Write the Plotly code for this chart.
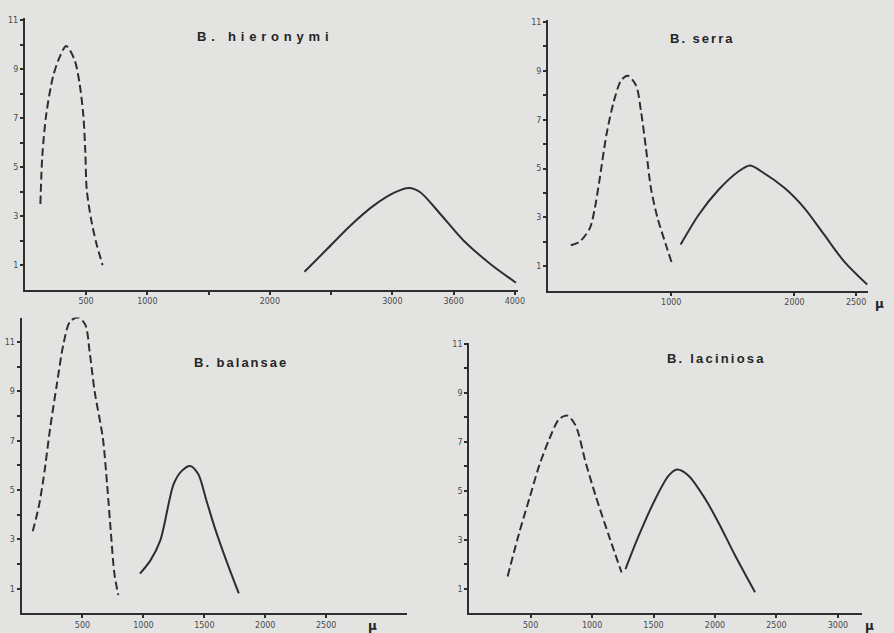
import plotly.graph_objects as go

# ---------------- data ----------------
hieronymi_dashed_x = [127, 143, 176, 230, 284, 338, 405, 446, 478, 494, 505, 540, 581, 635]
hieronymi_dashed_y = [3.5, 5.5, 7.2, 8.7, 9.5, 9.95, 9.4, 8.45, 7.1, 5.6, 4.1, 2.9, 1.95, 1.0]
hieronymi_solid_x = [2283, 2472, 2661, 2850, 3025, 3134, 3228, 3390, 3579, 3795, 4010]
hieronymi_solid_y = [0.73, 1.68, 2.63, 3.44, 3.98, 4.15, 3.98, 3.1, 2.02, 1.07, 0.28]

serra_dashed_x = [185, 260, 340, 380, 420, 474, 533, 594, 648, 715, 755, 795, 835, 889, 956, 1004]
serra_dashed_y = [1.86, 2.02, 2.56, 3.38, 4.6, 6.38, 7.73, 8.62, 8.8, 8.4, 7.33, 5.83, 4.2, 2.97, 1.89, 1.14]
serra_solid_x = [1076, 1223, 1384, 1545, 1639, 1732, 1920, 2080, 2241, 2402, 2590]
serra_solid_y = [1.89, 3.11, 4.13, 4.88, 5.12, 4.88, 4.2, 3.38, 2.29, 1.2, 0.25]

balansae_dashed_x = [92, 140, 181, 235, 289, 343, 397, 464, 524, 559, 600, 667, 702, 734, 762, 794]
balansae_dashed_y = [3.33, 4.3, 5.5, 7.52, 9.27, 10.9, 11.83, 12.0, 11.7, 10.6, 9.0, 7.12, 5.24, 3.22, 1.61, 0.74]
balansae_solid_x = [972, 1058, 1139, 1248, 1315, 1383, 1450, 1518, 1585, 1680, 1783]
balansae_solid_y = [1.61, 2.15, 2.96, 5.24, 5.78, 5.98, 5.65, 4.57, 3.49, 2.15, 0.81]

laciniosa_dashed_x = [313, 408, 489, 570, 651, 732, 800, 867, 948, 1029, 1137, 1240]
laciniosa_dashed_y = [1.51, 3.3, 4.67, 6.03, 7.1, 7.93, 8.07, 7.66, 6.16, 4.8, 3.17, 1.67]
laciniosa_solid_x = [1272, 1380, 1515, 1623, 1691, 1785, 1921, 2028, 2164, 2326]
laciniosa_solid_y = [1.81, 3.17, 4.67, 5.62, 5.87, 5.62, 4.67, 3.71, 2.36, 0.86]

titles = ["B. hieronymi", "B. serra", "B. balansae", "B. laciniosa"]

y_tickvals = list(range(1, 12))
y_ticktext = [str(v) if v % 2 == 1 else "" for v in y_tickvals]

x1_tickvals = [500, 1000, 1500, 2000, 2500, 3000, 3500, 4000]
x1_ticktext = ["500", "1000", "", "2000", "", "3000", "3600", "4000"]
x2_tickvals = [1000, 2000, 2500]
x2_ticktext = ["1000", "2000", "2500"]
x3_tickvals = [500, 1000, 1500, 2000, 2500]
x3_ticktext = ["500", "1000", "1500", "2000", "2500"]
x4_tickvals = [500, 1000, 1500, 2000, 2500, 3000]
x4_ticktext = ["500", "1000", "1500", "2000", "2500", "3000"]

# ---------------- style ----------------
BG = "#e3e3e1"
INK = "#2e2e2e"
W, H = 894, 633

fig = go.Figure()

panels = [
    (hieronymi_dashed_x, hieronymi_dashed_y, hieronymi_solid_x, hieronymi_solid_y, "x", "y"),
    (serra_dashed_x, serra_dashed_y, serra_solid_x, serra_solid_y, "x2", "y2"),
    (balansae_dashed_x, balansae_dashed_y, balansae_solid_x, balansae_solid_y, "x3", "y3"),
    (laciniosa_dashed_x, laciniosa_dashed_y, laciniosa_solid_x, laciniosa_solid_y, "x4", "y4"),
]
for dx, dy, sx, sy, xa, ya in panels:
    fig.add_trace(go.Scatter(x=dx, y=dy, mode="lines", xaxis=xa, yaxis=ya, cliponaxis=False,
                             line=dict(color=INK, width=2, dash="8px,4px", shape="spline", smoothing=0.8),
                             showlegend=False, hoverinfo="skip"))
    fig.add_trace(go.Scatter(x=sx, y=sy, mode="lines", xaxis=xa, yaxis=ya, cliponaxis=False,
                             line=dict(color=INK, width=2, shape="spline", smoothing=0.8),
                             showlegend=False, hoverinfo="skip"))


def px_x(a, b):
    return [a / W, b / W]


def px_y(top, bottom):
    return [(H - bottom) / H, (H - top) / H]


tickfont = dict(family="DejaVu Sans", size=8, color="#4a4a4a")


def xaxis(domain, rng, tv, tt, anchor):
    return dict(domain=domain, range=rng, tickvals=tv, ticktext=tt, anchor=anchor,
                showline=True, linecolor=INK, linewidth=2, ticks="outside", ticklen=3,
                tickwidth=2, tickcolor=INK, showgrid=False, zeroline=False,
                tickfont=tickfont, fixedrange=True)


def yaxis(domain, rng, anchor):
    return dict(domain=domain, range=rng, tickvals=y_tickvals, ticktext=y_ticktext, anchor=anchor,
                showline=True, linecolor=INK, linewidth=2, ticks="outside", ticklen=3,
                tickwidth=2, tickcolor=INK, showgrid=False, zeroline=False,
                tickfont=tickfont, fixedrange=True)


fig.update_layout(
    width=W, height=H,
    margin=dict(l=0, r=0, t=0, b=0),
    paper_bgcolor=BG, plot_bgcolor=BG,
    xaxis=xaxis(px_x(25, 522), [0, 4030], x1_tickvals, x1_ticktext, "y"),
    yaxis=yaxis(px_y(15, 288), [0, 11.1], "x"),
    xaxis2=xaxis(px_x(551.7, 874.3), [0, 2600], x2_tickvals, x2_ticktext, "y2"),
    yaxis2=yaxis(px_y(16.7, 289), [0, 11.1], "x2"),
    xaxis3=xaxis(px_x(21.7, 409.3), [0, 3160], x3_tickvals, x3_ticktext, "y3"),
    yaxis3=yaxis(px_y(316, 613.3), [0, 12.0], "x3"),
    xaxis4=xaxis(px_x(472.3, 868.3), [0, 3200], x4_tickvals, x4_ticktext, "y4"),
    yaxis4=yaxis(px_y(341.7, 613.3), [0, 11.03], "x4"),
)

title_pos = [(266.5, 34), (706.7, 36), (243, 361), (721.7, 357.3)]
title_spacing = [4.8, 2.0, 2.0, 2.2]
for t, (cx, cy), sp in zip(titles, title_pos, title_spacing):
    fig.add_annotation(x=cx / W, y=(H - cy) / H, xref="paper", yref="paper",
                       text='<span style="letter-spacing:%spx">%s</span>' % (sp, t),
                       showarrow=False, xanchor="center", yanchor="middle",
                       font=dict(family="Liberation Sans", size=13, color="#262626", weight="bold"))

mu_pos = [(885, 302), (375, 626), (875, 626)]
for cx, cy in mu_pos:
    fig.add_annotation(x=cx / W, y=(H - cy) / H, xref="paper", yref="paper",
                       text="μ", showarrow=False, xanchor="center", yanchor="middle",
                       font=dict(family="DejaVu Sans", size=12, color="#262626", weight="bold"))

fig.write_html("out.html", config={"displayModeBar": False},
               post_script="document.body.style.margin='0';document.body.style.background='%s';" % BG)
